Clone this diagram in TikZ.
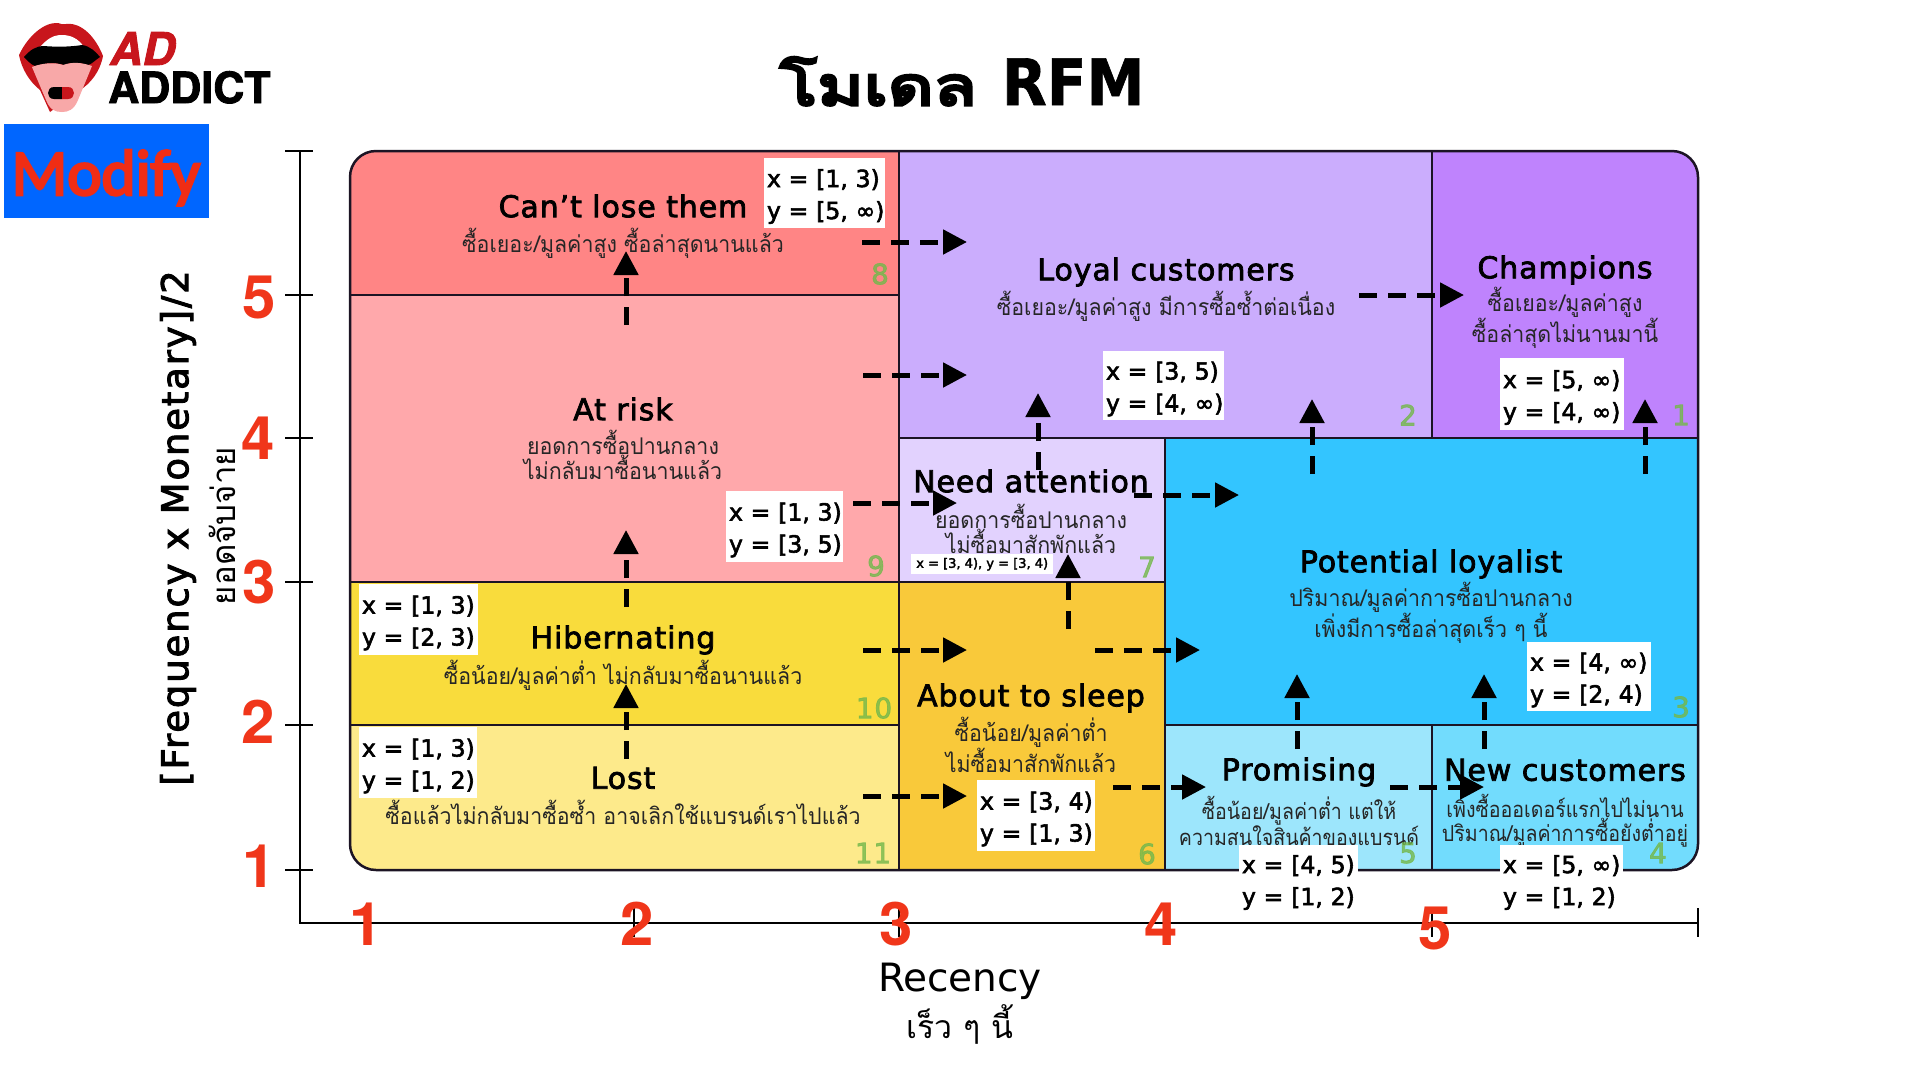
\documentclass[tikz,border=0pt]{standalone}
\usepackage{fontspec}
\usetikzlibrary{arrows.meta}
\setmainfont[Script=Thai]{Loma}
\newfontfamily\thaib[Script=Thai,FakeStretch=0.93]{Loma}
\newfontfamily\thais[Script=Thai,FakeStretch=0.89]{Loma}
\newfontfamily\thaititle[Script=Thai,FakeBold=6,FakeStretch=1.33]{Loma}
\newfontfamily\dv{DejaVu Sans}
\newfontfamily\dvm[FakeBold=2.5,LetterSpace=3]{DejaVu Sans}
\newfontfamily\dvb[FakeBold=2.5]{DejaVu Sans}
\newfontfamily\dvy[FakeBold=2.5,LetterSpace=5]{DejaVu Sans}
\newfontfamily\dvt[FakeStretch=0.91,FakeBold=1]{DejaVu Sans Bold}
\newfontfamily\hv{TeX Gyre Heros}
\newfontfamily\hvb[FakeBold=2]{TeX Gyre Heros}
\newfontfamily\cb[FakeBold=4]{Carlito}
\newcommand\sz[1]{\fontsize{#1}{#1}\selectfont}
\newcommand\infy{∞}
\definecolor{lineC}{HTML}{1C1424}
\definecolor{redD}{HTML}{F0361A}
\definecolor{greenN}{HTML}{74B84C}
\definecolor{cCant}{HTML}{FF8585}
\definecolor{cRisk}{HTML}{FFA8AB}
\definecolor{cHib}{HTML}{F9DC3C}
\definecolor{cLost}{HTML}{FDEA8B}
\definecolor{cSleep}{HTML}{F9C93A}
\definecolor{cNeed}{HTML}{E2D2FE}
\definecolor{cLoyal}{HTML}{CBADFD}
\definecolor{cChamp}{HTML}{BF83FD}
\definecolor{cPot}{HTML}{33C5FF}
\definecolor{cProm}{HTML}{9DE6FC}
\definecolor{cNew}{HTML}{72DCFD}
\definecolor{cMod}{HTML}{0066FF}
\definecolor{cModT}{HTML}{F02D14}
\definecolor{cLip}{HTML}{C8161C}
\definecolor{cTong}{HTML}{F8A8A8}
\tikzset{
  cell/.style={draw=lineC,line width=2pt,anchor=north west,inner sep=0pt,outer sep=0pt},
  head/.style={font=\dvm\sz{30},inner sep=0pt,text=black},
  sub/.style={font=\thaib\fontsize{23}{25}\selectfont,inner sep=0pt,align=center,text=black!85},
  subs/.style={font=\thais\fontsize{22}{24}\selectfont,inner sep=0pt,align=center,text=black!85},
  xy/.style={fill=white,anchor=north west,inner sep=0pt,outer sep=0pt,font=\dvb\fontsize{23.5}{32}\selectfont,align=left},
  reddigit/.style={font=\hv\bfseries\sz{60},text=redD,inner sep=0pt},
  num/.style={font=\dvm\sz{28},text=greenN,text opacity=.8,inner sep=0pt},
  flow/.style={line width=5pt,dash pattern=on 18pt off 11pt,-{Triangle[length=24pt,width=24pt]}},
  axis/.style={line width=2pt,draw=black},
}
\newcommand\cellbox[6]{\node[cell,fill=#6,minimum width=#4pt-#2pt,minimum height=#5pt-#3pt] (#1) at (#2,#3) {};}
\newcommand\xybox[7]{\node[xy,minimum width=#4pt-#2pt,minimum height=#5pt-#3pt,text width=#4pt-#2pt-6pt,inner xsep=3pt] (#1) at (#2,#3) {\smash{\raisebox{-10pt}{\rlap{#6}}}\\\smash{\raisebox{-10pt}{\rlap{#7}}}};}
\newcommand\arr[5]{\coordinate (#1s) at (#2,#3); \coordinate (#1e) at (#4,#5); \draw[flow] (#1s) -- (#1e);}
\begin{document}
\begin{tikzpicture}[x=1pt,y=-1pt]
\useasboundingbox (0,0) rectangle (1920,1080);
\fill[white] (0,0) rectangle (1920,1080);
% logo
\fill[cLip] (19,55) .. controls (28,36) and (44,22) .. (58,23) .. controls (61,24) and (64,25) .. (66,24) .. controls (82,22) and (96,38) .. (103,56) .. controls (100,72) and (90,84) .. (80,90) -- (50,112) -- (40,90) .. controls (30,82) and (22,70) .. (19,55) -- cycle;
\fill[white] (40,47) .. controls (48,38) and (54,35) .. (62,35) .. controls (70,35) and (78,38) .. (84,47) -- cycle;
\fill[black] (24,57) .. controls (30,50) and (36,46) .. (44,46) .. controls (55,47) and (70,47) .. (82,45) .. controls (90,46) and (96,52) .. (100,57) .. controls (94,61) and (92,64) .. (88,65) .. controls (78,62) and (72,62) .. (64,65) .. controls (55,62) and (45,63) .. (35,66) .. controls (30,64) and (27,60) .. (24,57) -- cycle;
\fill[cTong] (32,67) .. controls (42,63) and (55,62) .. (63,65) .. controls (72,62) and (80,62) .. (92,66) -- (78,100) .. controls (74,110) and (68,112) .. (62,112) .. controls (55,112) and (50,110) .. (46,100) -- cycle;
\fill[black] (54,87) -- (62,87) -- (62,99) -- (54,99) .. controls (46,99) and (46,87) .. (54,87) -- cycle;
\fill[cLip] (62,87) -- (68,87) .. controls (76,87) and (76,99) .. (68,99) -- (62,99) -- cycle;
\node[font=\hvb\bfseries\itshape\sz{45},text=cLip,anchor=base west,inner sep=0pt] (adA) at (110,65) {AD};
\node[font=\hvb\bfseries\sz{43},text=black,anchor=base west,inner sep=0pt] (adB) at (108,103) {ADDICT};
\node[fill=cMod,minimum width=205pt,minimum height=94pt,anchor=north west,inner sep=0pt] (modbox) at (4,124) {};
\node[font=\cb\sz{65},text=cModT,anchor=base,inner sep=0pt] (modify) at (106,195) {Modify};
% title
\node[inner sep=0pt,anchor=base] (title) at (962,105) {{\thaititle\sz{53}โมเดล}\hspace{25pt}{\dvt\sz{64}RFM}};
% axes
\coordinate (o) at (300,923);
\coordinate (ytop) at (300,151);
\coordinate (xend) at (1698,923);
\draw[axis] (ytop) -- (o) -- (xend);
\foreach \yy in {151,295,438,582,725,870}{\draw[axis] (285,\yy) -- (313,\yy);}
\foreach \xx in {634,899,1165,1432,1698}{\draw[axis] (\xx,908) -- (\xx,937);}
% cells
\begin{scope}
\path[clip,rounded corners=26pt] (350,151) rectangle (1698,870);
\cellbox{cant}{350}{151}{899}{295}{cCant}
\cellbox{risk}{350}{295}{899}{582}{cRisk}
\cellbox{hib}{350}{582}{899}{725}{cHib}
\cellbox{lost}{350}{725}{899}{870}{cLost}
\cellbox{sleep}{899}{582}{1165}{870}{cSleep}
\cellbox{need}{899}{438}{1165}{582}{cNeed}
\cellbox{loyal}{899}{151}{1432}{438}{cLoyal}
\cellbox{champ}{1432}{151}{1698}{438}{cChamp}
\cellbox{pot}{1165}{438}{1698}{725}{cPot}
\cellbox{prom}{1165}{725}{1432}{870}{cProm}
\cellbox{newc}{1432}{725}{1698}{870}{cNew}
\end{scope}
\draw[lineC,line width=2.5pt,rounded corners=26pt] (350,151) rectangle (1698,870);
% red digits
\node[reddigit] (y5) at (259,297) {5};
\node[reddigit] (y4) at (258,438) {4};
\node[reddigit] (y3) at (259,582) {3};
\node[reddigit] (y2) at (258,722) {2};
\node[reddigit] (y1) at (259,866) {1};
\node[reddigit] (x1) at (366,924) {1};
\node[reddigit] (x2) at (637,924) {2};
\node[reddigit] (x3) at (896,924) {3};
\node[reddigit] (x4) at (1161,924) {4};
\node[reddigit] (x5) at (1435,928) {5};
% axis titles
\node[font=\dvy\sz{37},rotate=90,inner sep=0pt] (ylab) at (178,528) {[Frequency x Monetary]/2};
\node[font=\sz{33},rotate=90,inner sep=0pt] (ylab2) at (222,526) {ยอดจับจ่าย};
\node[font=\dv\sz{39},inner sep=0pt] (xlab) at (960,981) {Recency};
\node[font=\sz{32},inner sep=0pt] (xlab2) at (960,1024) {เร็ว ๆ นี้};
% headings
\node[head] (hCant) at (623,206) {Can’t lose them};
\node[sub] (sCant) at (623,243) {ซื้อเยอะ/มูลค่าสูง ซื้อล่าสุดนานแล้ว};
\node[head] (hRisk) at (623,409) {At risk};
\node[sub] (sRisk) at (623,455) {ยอดการซื้อปานกลาง\\ไม่กลับมาซื้อนานแล้ว};
\node[head] (hHib) at (623,640) {Hibernating};
\node[sub] (sHib) at (623,675) {ซื้อน้อย/มูลค่าต่ำ ไม่กลับมาซื้อนานแล้ว};
\node[head] (hLost) at (623,778) {Lost};
\node[sub] (sLost) at (623,812) {ซื้อแล้วไม่กลับมาซื้อซ้ำ อาจเลิกใช้แบรนด์เราไปแล้ว};
\node[head] (hLoyal) at (1166,272) {Loyal customers};
\node[sub] (sLoyal) at (1166,306) {ซื้อเยอะ/มูลค่าสูง มีการซื้อซ้ำต่อเนื่อง};
\node[head] (hChamp) at (1565,270) {Champions};
\node[sub] (sChamp) at (1565,318) {ซื้อเยอะ/มูลค่าสูง\\ซื้อล่าสุดไม่นานมานี้};
\node[head] (hNeed) at (1031,481) {Need attention};
\node[sub] (sNeed) at (1031,529) {ยอดการซื้อปานกลาง\\ไม่ซื้อมาสักพักแล้ว};
\node[head] (hPot) at (1431,564) {Potential loyalist};
\node[sub] (sPot) at (1431,613) {ปริมาณ/มูลค่าการซื้อปานกลาง\\เพิ่งมีการซื้อล่าสุดเร็ว ๆ นี้};
\node[head] (hSleep) at (1031,698) {About to sleep};
\node[sub] (sSleep) at (1031,745) {ซื้อน้อย/มูลค่าต่ำ\\ไม่ซื้อมาสักพักแล้ว};
\node[head] (hProm) at (1299,772) {Promising};
\node[subs] (sProm) at (1299,821) {ซื้อน้อย/มูลค่าต่ำ แต่ให้\\ความสนใจสินค้าของแบรนด์};
\node[head] (hNew) at (1565,770) {New customers};
\node[subs] (sNew) at (1565,821) {เพิ่งซื้อออเดอร์แรกไปไม่นาน\\ปริมาณ/มูลค่าการซื้อยังต่ำอยู่};
% cell numbers
\node[num] (n8) at (880,274) {8};
\node[num] (n9) at (876,566) {9};
\node[num] (n10) at (874,708) {10};
\node[num] (n11) at (873,853) {11};
\node[num] (n7) at (1147,567) {7};
\node[num] (n6) at (1147,854) {6};
\node[num] (n5) at (1408,853) {5};
\node[num] (n4) at (1658,853) {4};
\node[num] (n3) at (1681,707) {3};
\node[num] (n2) at (1408,415) {2};
\node[num] (n1) at (1681,415) {1};
% ranges
\xybox{bCant}{764}{158}{885}{228}{x = [1, 3)}{y = [5, \infy)}
\xybox{bRisk}{726}{491}{843}{562}{x = [1, 3)}{y = [3, 5)}
\xybox{bLoyal}{1103}{351}{1224}{420}{x = [3, 5)}{y = [4, \infy)}
\xybox{bChamp}{1500}{358}{1624}{430}{x = [5, \infy)}{y = [4, \infy)}
\xybox{bHib}{359}{584}{478}{655}{x = [1, 3)}{y = [2, 3)}
\xybox{bLost}{359}{727}{477}{798}{x = [1, 3)}{y = [1, 2)}
\xybox{bSleep}{977}{780}{1095}{851}{x = [3, 4)}{y = [1, 3)}
\xybox{bPot}{1527}{642}{1651}{711}{x = [4, \infy)}{y = [2, 4)}
\xybox{bProm}{1239}{845}{1358}{913}{x = [4, 5)}{y = [1, 2)}
\xybox{bNew}{1500}{845}{1623}{913}{x = [5, \infy)}{y = [1, 2)}
\node[fill=white,anchor=north west,minimum width=142pt,minimum height=20pt,inner sep=0pt,font=\dvb\sz{13}] (bNeed) at (911,554) {x = [3, 4), y = [3, 4)};
% connectors
\arr{a1}{862}{242}{967}{242}
\arr{a2}{863}{375}{967}{375}
\arr{a3}{853}{503}{957}{503}
\arr{a4}{1134}{495}{1239}{495}
\arr{a5}{1359}{295}{1464}{295}
\arr{a6}{863}{650}{967}{650}
\arr{a7}{1095}{650}{1200}{650}
\arr{a8}{863}{796}{967}{796}
\arr{a9}{1113}{787}{1206}{787}
\arr{a10}{1390}{787}{1484}{787}
\arr{b1}{626}{325}{626}{251}
\arr{b2}{626}{607}{626}{530}
\arr{b3}{626}{759}{626}{684}
\arr{b4}{1038}{470}{1038}{393}
\arr{b5}{1312}{474}{1312}{399}
\arr{b6}{1645}{474}{1645}{399}
\arr{b7}{1068}{629}{1068}{554}
\arr{b8}{1297}{749}{1297}{674}
\arr{b9}{1484}{749}{1484}{674}
\end{tikzpicture}
\end{document}
